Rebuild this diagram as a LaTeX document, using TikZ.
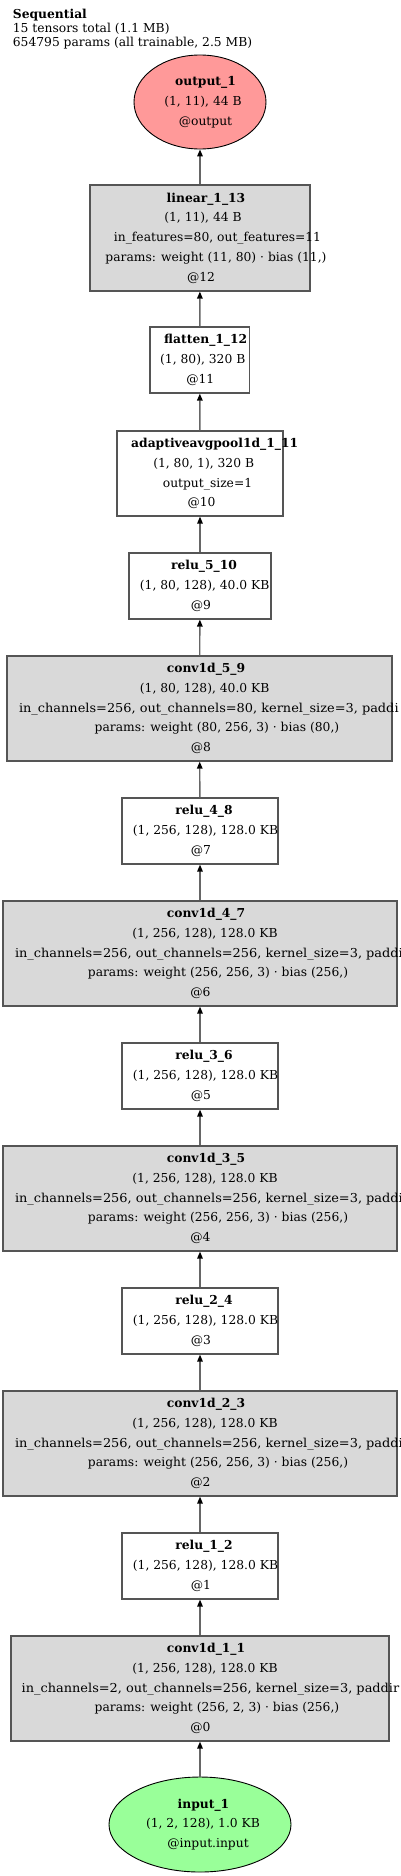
\documentclass[tikz,border=0pt]{standalone}
\usepackage{fontspec}
\usepackage{graphicx}
\setmainfont{DejaVu Serif}
\usetikzlibrary{shapes.geometric,arrows.meta}
\definecolor{edgegray}{HTML}{666666}
\definecolor{boxgray}{HTML}{D9D9D9}
\definecolor{bordergray}{HTML}{555555}
\definecolor{outpink}{HTML}{FF9999}
\definecolor{ingreen}{HTML}{99FF99}
\newcommand\lnC[2]{\makebox[0pt][c]{\hspace*{#1pt}\hspace*{#1pt}#2}}
\newcommand\lnL[2]{\makebox[0pt][l]{\hspace*{#1pt}\scalebox{1.05}[1]{#2}}}
\begin{document}
\begin{tikzpicture}[x=1pt,y=-1pt,
  every node/.style={font=\fontsize{12.3}{19.8}\selectfont, inner sep=0pt, align=center, text=black},
  layer/.style={rectangle, draw=bordergray, line width=1.2pt, fill=white},
  param/.style={layer, fill=boxgray},
  io/.style={ellipse, draw=black, line width=0.9pt},
  relubox/.style={layer, minimum width=156pt, minimum height=66pt},
  convbox/.style={param, minimum width=394pt, minimum height=105pt},
  edge/.style={draw=edgegray, line width=1.4pt, -{Triangle[length=7pt,width=5.5pt,color=black]}},
  header/.style={align=left, font=\fontsize{12.3}{14.2}\selectfont, anchor=north west}
]
\useasboundingbox (0,0) rectangle (400,1876);
\clip (0,0) rectangle (400,1876);
\node[header] (hdr) at (12.7,9) {\textbf{Sequential}\\15 tensors total (1.1 MB)\\654795 params (all trainable, 2.5 MB)};

\node[io, fill=outpink, minimum width=132pt, minimum height=94pt] (out) at (200,102)
  {\lnC{5.5}{\textbf{output\_1}}\\\lnC{3}{(1, 11), 44 B}\\\lnC{5.5}{@output}};
\node[param, minimum width=220pt, minimum height=106pt] (l13) at (200,238)
  {\lnC{6}{\textbf{linear\_1\_13}}\\\lnC{3}{(1, 11), 44 B}\\\lnC{17.5}{in\_features=80, out\_features=11}\\\lnC{16}{params: weight (11, 80) · bias (11,)}\\\lnC{1}{@12}};
\node[layer, minimum width=99.5pt, minimum height=66pt] (f12) at (199.75,360)
  {\lnC{6}{\textbf{flatten\_1\_12}}\\\lnC{3}{(1, 80), 320 B}\\\lnC{0.5}{@11}};
\node[layer, minimum width=166pt, minimum height=85pt] (a11) at (200,473.5)
  {\lnC{14.7}{\textbf{adaptiveavgpool1d\_1\_11}}\\\lnC{3.7}{(1, 80, 1), 320 B}\\\lnC{7.5}{output\_size=1}\\\lnC{1.5}{@10}};
\node[layer, minimum width=142pt, minimum height=66pt] (r510) at (200,586)
  {\lnC{4}{\textbf{relu\_5\_10}}\\\lnC{4.7}{(1, 80, 128), 40.0 KB}\\\lnC{1}{@9}};
\node[param, minimum width=385pt, minimum height=105pt] (c59) at (199.5,708.5)
  {\lnC{6.5}{\textbf{conv1d\_5\_9}}\\\lnC{5.2}{(1, 80, 128), 40.0 KB}\\\lnL{-180.5}{in\_channels=256, out\_channels=80, kernel\_size=3, paddi}\\\lnC{17.5}{params: weight (80, 256, 3) · bias (80,)}\\\lnC{1.5}{@8}};
\node[relubox] (r48) at (200,831)
  {\lnC{4}{\textbf{relu\_4\_8}}\\\lnC{5.5}{(1, 256, 128), 128.0 KB}\\\lnC{1}{@7}};
\node[convbox] (c47) at (200,953.5)
  {\lnC{6}{\textbf{conv1d\_4\_7}}\\\lnC{5}{(1, 256, 128), 128.0 KB}\\\lnL{-185}{in\_channels=256, out\_channels=256, kernel\_size=3, paddi}\\\lnC{18}{params: weight (256, 256, 3) · bias (256,)}\\\lnC{0.5}{@6}};
\node[relubox] (r36) at (200,1076)
  {\lnC{4}{\textbf{relu\_3\_6}}\\\lnC{5.5}{(1, 256, 128), 128.0 KB}\\\lnC{1}{@5}};
\node[convbox] (c35) at (200,1198.5)
  {\lnC{6}{\textbf{conv1d\_3\_5}}\\\lnC{5}{(1, 256, 128), 128.0 KB}\\\lnL{-185}{in\_channels=256, out\_channels=256, kernel\_size=3, paddi}\\\lnC{18}{params: weight (256, 256, 3) · bias (256,)}\\\lnC{0.5}{@4}};
\node[relubox] (r24) at (200,1321)
  {\lnC{4}{\textbf{relu\_2\_4}}\\\lnC{5.5}{(1, 256, 128), 128.0 KB}\\\lnC{1}{@3}};
\node[convbox] (c23) at (200,1443.5)
  {\lnC{6}{\textbf{conv1d\_2\_3}}\\\lnC{5}{(1, 256, 128), 128.0 KB}\\\lnL{-185}{in\_channels=256, out\_channels=256, kernel\_size=3, paddi}\\\lnC{18}{params: weight (256, 256, 3) · bias (256,)}\\\lnC{0.5}{@2}};
\node[relubox] (r12) at (200,1566)
  {\lnC{4}{\textbf{relu\_1\_2}}\\\lnC{5.5}{(1, 256, 128), 128.0 KB}\\\lnC{1}{@1}};
\node[param, minimum width=378pt, minimum height=105pt] (c11) at (200,1688.5)
  {\lnC{6}{\textbf{conv1d\_1\_1}}\\\lnC{5}{(1, 256, 128), 128.0 KB}\\\lnL{-178.3}{in\_channels=2, out\_channels=256, kernel\_size=3, paddir}\\\lnC{17}{params: weight (256, 2, 3) · bias (256,)}\\\lnC{0.5}{@0}};
\node[io, fill=ingreen, minimum width=182pt, minimum height=95pt] (in) at (200,1824.5)
  {\lnC{3.5}{\textbf{input\_1}}\\\lnC{3}{(1, 2, 128), 1.0 KB}\\\lnC{8}{@input.input}};

\draw[edge] (in) -- (c11);
\draw[edge] (c11) -- (r12);
\draw[edge] (r12) -- (c23);
\draw[edge] (c23) -- (r24);
\draw[edge] (r24) -- (c35);
\draw[edge] (c35) -- (r36);
\draw[edge] (r36) -- (c47);
\draw[edge] (c47) -- (r48);
\draw[edge] (r48) -- (c59);
\draw[edge] (c59) -- (r510);
\draw[edge] (r510) -- (a11);
\draw[edge] (a11) -- (f12);
\draw[edge] (f12) -- (l13);
\draw[edge] (l13) -- (out);
\end{tikzpicture}
\end{document}
